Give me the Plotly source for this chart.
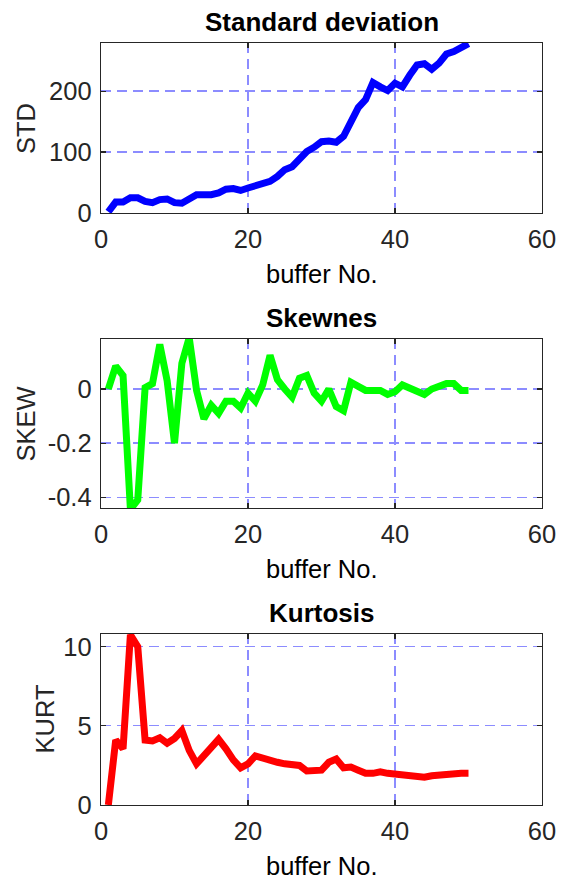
import plotly.graph_objects as go

buffer_no = list(range(1, 51))

std_vals = [2, 18, 18, 25, 25, 19, 17, 22, 23, 17,
            16, 23, 30, 30, 30, 33, 39, 40, 37, 41,
            45, 48, 52, 60, 71, 76, 90, 101, 108, 117,
            118, 116, 126, 152, 173, 186, 214, 207, 201, 213,
            207, 226, 243, 245, 236, 246, 261, 265, 273, 278]

skew_vals = [0.0, 0.085, 0.05, -0.445, -0.41, 0.005, 0.02, 0.165, 0.03, -0.2,
             0.095, 0.19, -0.005, -0.11, -0.06, -0.09, -0.045, -0.045, -0.07, -0.015,
             -0.045, 0.015, 0.125, 0.035, 0.0, -0.03, 0.04, 0.05, -0.015, -0.045,
             0.0, -0.065, -0.08, 0.025, 0.01, -0.005, -0.005, -0.005, -0.02, -0.01,
             0.015, 0.005, -0.01, -0.02, 0.0, 0.01, 0.02, 0.02, -0.005, -0.005]

kurt_vals = [0.0, 4.1, 3.55, 10.75, 10.0, 4.1, 4.05, 4.25, 3.9, 4.2,
             4.7, 3.45, 2.6, 3.15, 3.65, 4.15, 3.55, 2.85, 2.35, 2.6,
             3.1, 2.95, 2.75, 2.7, 2.6, 2.55, 2.5, 2.15, 2.15, 2.2,
             2.7, 2.9, 2.35, 2.4, 2.2, 2.0, 2.0, 2.1, 2.0, 1.95,
             1.95, 1.85, 1.75, 1.75, 1.85, 1.9, 1.95, 2.05, 2.0, 2.0]

titles = ["Standard deviation", "Skewnes", "Kurtosis"]
ylabels = ["STD", "SKEW", "KURT"]
xlabel = "buffer No."
x_ticks = [0, 20, 40, 60]
y_ticks = [[0, 100, 200], [-0.4, -0.2, 0], [0, 5, 10]]
y_ticktext = [["0", "100", "200"], ["-0.4", "-0.2", "0"], ["0", "5", "10"]]
y_ranges = [[0, 279], [-0.44, 0.185], [0, 10.8]]
series = [std_vals, skew_vals, kurt_vals]
colors = ["#0000ff", "#00ff00", "#ff0000"]

W, H = 562, 880
x0, x1 = 101, 542
boxes = [(43, 213), (339, 508), (634, 805)]
ylabel_x = [26, 26, 44]

FONT = "Arial, Liberation Sans, sans-serif"
AX = "#262626"
GRID = "#8c8cff"
FS = 25.5

fig = go.Figure()
layout = dict(
    width=W, height=H, margin=dict(l=0, r=0, t=0, b=0, autoexpand=False),
    paper_bgcolor="white", plot_bgcolor="white", showlegend=False,
    font=dict(family=FONT, color=AX, size=FS),
)
annotations = []
for i in range(3):
    xa = "x" if i == 0 else f"x{i+1}"
    ya = "y" if i == 0 else f"y{i+1}"
    fig.add_trace(go.Scatter(x=buffer_no, y=series[i], mode="lines",
                             line=dict(color=colors[i], width=7),
                             xaxis=xa, yaxis=ya, hoverinfo="skip"))
    top, bot = boxes[i]
    xkey = "xaxis" if i == 0 else f"xaxis{i+1}"
    ykey = "yaxis" if i == 0 else f"yaxis{i+1}"
    common = dict(
        ticks="inside", ticklen=5, tickcolor=AX, tickwidth=1.2,
        showline=True, linecolor=AX, linewidth=1.3, mirror="ticks",
        showgrid=True, gridcolor=GRID, griddash="10px,6px", gridwidth=1.3,
        zeroline=False, tickfont=dict(size=FS, color=AX, family=FONT),
        automargin=False,
    )
    layout[xkey] = dict(domain=[x0 / W, x1 / W], anchor=ya, range=[0, 60],
                        tickvals=x_ticks, ticklabelstandoff=3, **common)
    layout[ykey] = dict(domain=[1 - bot / H, 1 - top / H], anchor=xa, range=y_ranges[i],
                        tickvals=y_ticks[i], ticktext=y_ticktext[i], ticklabelstandoff=3,
                        **common)
    annotations.append(dict(
        text=f"<b>{titles[i]}</b>", x=(x0 + x1) / 2 / W, y=1 - (top - 21) / H,
        xref="paper", yref="paper", xanchor="center", yanchor="middle",
        showarrow=False, font=dict(size=26, color="black", family=FONT)))
    annotations.append(dict(
        text=xlabel, x=(x0 + x1) / 2 / W, y=1 - (bot + 61) / H,
        xref="paper", yref="paper", xanchor="center", yanchor="middle",
        showarrow=False, font=dict(size=FS, color="black", family=FONT)))
    annotations.append(dict(
        text=ylabels[i], x=ylabel_x[i] / W, y=1 - ((top + bot) / 2) / H,
        xref="paper", yref="paper", xanchor="center", yanchor="middle", textangle=-90,
        showarrow=False, font=dict(size=FS, color=AX, family=FONT)))
layout["annotations"] = annotations
fig.update_layout(**layout)
fig.write_html("out.html", config={"displayModeBar": False, "staticPlot": True},
               post_script="document.body.style.margin='0';document.body.style.overflow='hidden';")
